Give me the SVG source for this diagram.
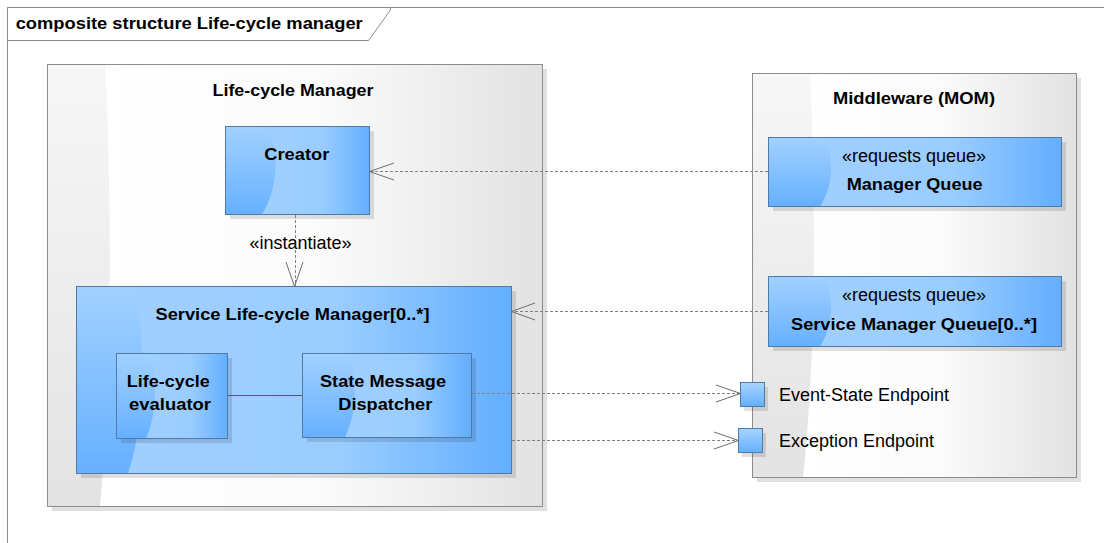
<svg xmlns="http://www.w3.org/2000/svg" width="1104" height="543" viewBox="0 0 1104 543">
<style>
.frame{fill:none;stroke:#8a8a8a;stroke-width:1}
.tab{fill:#fff;stroke:#8a8a8a;stroke-width:1}
.shadow{fill:#000;opacity:0.12}
.cbase{fill:url(#gBaseGray)}
.cover{fill:url(#gOverGray)}
.cborder{fill:none;stroke:#8c8c8c;stroke-width:1}
.bbase{fill:url(#gBaseBlue)}
.bover{fill:url(#gOverBlue)}
.bborder{fill:none;stroke:#4f7aa3;stroke-width:1}
.port{fill:url(#gPort);stroke:#4f7aa3;stroke-width:1}
.b{font-family:"Liberation Sans",Arial,sans-serif;font-weight:bold;font-size:16.5px;fill:#000}
.r{font-family:"Liberation Sans",Arial,sans-serif;font-size:18px;fill:#000}
.dash{fill:none;stroke:#808080;stroke-width:1;stroke-dasharray:3,2}
.head{fill:none;stroke:#6e6e6e;stroke-width:1}
.solid{fill:none;stroke:#5a5a5a;stroke-width:1}
</style>
<defs>
<linearGradient id="gBaseGray" x1="0" y1="0" x2="0" y2="1">
<stop offset="0" stop-color="#f7f7f7"/><stop offset="1" stop-color="#e3e3e3"/>
</linearGradient>
<linearGradient id="gOverGray" x1="0" y1="0" x2="1" y2="0">
<stop offset="0" stop-color="#ffffff"/><stop offset="0.5" stop-color="#fbfbfb"/><stop offset="1" stop-color="#e2e2e2"/>
</linearGradient>
<linearGradient id="gBaseBlue" x1="0" y1="0" x2="0" y2="1">
<stop offset="0" stop-color="#a2d1ff"/><stop offset="1" stop-color="#66b0ff"/>
</linearGradient>
<linearGradient id="gOverBlue" x1="0" y1="0" x2="1" y2="0">
<stop offset="0" stop-color="#9fcfff"/><stop offset="0.55" stop-color="#9acdff"/><stop offset="1" stop-color="#63aeff"/>
</linearGradient>
<linearGradient id="gPort" x1="0" y1="0" x2="0" y2="1">
<stop offset="0" stop-color="#a8d4ff"/><stop offset="1" stop-color="#64afff"/>
</linearGradient>
</defs>

<g id="frame">
<rect class="frame" x="7.5" y="7.5" width="1110" height="550"/>
<path class="tab" d="M7.5,7.5 H390.5 V10 L368.5,40.5 H7.5 Z"/>
<text class="b" x="15.7" y="28.5" textLength="347" lengthAdjust="spacingAndGlyphs">composite structure Life-cycle manager</text>
</g>

<g id="node-lifecycle-manager">
<rect class="shadow" x="52" y="69" width="495" height="442"/>
<rect class="cbase" x="47.5" y="64.5" width="495" height="442"/>
<path class="cover" d="M105,64.5 C112,200 112,380 100,506.5 H542.5 V64.5 Z"/>
<rect class="cborder" x="47.5" y="64.5" width="495" height="442"/>
<text class="b" x="293" y="95.5" text-anchor="middle" textLength="161" lengthAdjust="spacingAndGlyphs">Life-cycle Manager</text>
</g>

<g id="node-middleware">
<rect class="shadow" x="757" y="78" width="324" height="404"/>
<rect class="cbase" x="752.5" y="73.5" width="324" height="404"/>
<path class="cover" d="M810,73.5 C816,200 816,360 803,477.5 H1076.5 V73.5 Z"/>
<rect class="cborder" x="752.5" y="73.5" width="324" height="404"/>
<text class="b" x="914" y="104.3" text-anchor="middle" textLength="162" lengthAdjust="spacingAndGlyphs">Middleware (MOM)</text>
</g>

<g id="node-creator">
<rect class="shadow" x="230" y="131" width="144" height="88"/>
<rect class="bbase" x="225.5" y="126.5" width="144" height="88"/>
<path class="bover" d="M268,126.5 C278,150 280,185 262,214.5 H369.5 V126.5 Z"/>
<rect class="bborder" x="225.5" y="126.5" width="144" height="88"/>
<text class="b" x="296.8" y="159.5" text-anchor="middle" textLength="65" lengthAdjust="spacingAndGlyphs">Creator</text>
</g>

<g id="node-service-lifecycle-manager">
<rect class="shadow" x="81" y="291" width="435" height="187"/>
<rect class="bbase" x="76.5" y="286.5" width="435" height="187"/>
<path class="bover" d="M134,286.5 C146,340 146,420 128,473.5 H511.5 V286.5 Z"/>
<rect class="bborder" x="76.5" y="286.5" width="435" height="187"/>
<text class="b" x="292.5" y="319.5" text-anchor="middle" textLength="274" lengthAdjust="spacingAndGlyphs">Service Life-cycle Manager[0..*]</text>
</g>

<g id="node-lifecycle-evaluator">
<rect class="shadow" x="121" y="358" width="111" height="85"/>
<rect class="bbase" x="116.5" y="353.5" width="111" height="85"/>
<path class="bover" d="M150,353.5 C157,380 158,410 146,438.5 H227.5 V353.5 Z"/>
<rect class="bborder" x="116.5" y="353.5" width="111" height="85"/>
<text class="b" x="168.3" y="387" text-anchor="middle" textLength="83" lengthAdjust="spacingAndGlyphs">Life-cycle</text>
<text class="b" x="170" y="410.3" text-anchor="middle" textLength="82" lengthAdjust="spacingAndGlyphs">evaluator</text>
</g>

<g id="node-state-message-dispatcher">
<rect class="shadow" x="307" y="358" width="169" height="84"/>
<rect class="bbase" x="302.5" y="353.5" width="169" height="84"/>
<path class="bover" d="M348,353.5 C357,380 358,410 345,437.5 H471.5 V353.5 Z"/>
<rect class="bborder" x="302.5" y="353.5" width="169" height="84"/>
<text class="b" x="383" y="387" text-anchor="middle" textLength="126" lengthAdjust="spacingAndGlyphs">State Message</text>
<text class="b" x="385.3" y="410.3" text-anchor="middle" textLength="94" lengthAdjust="spacingAndGlyphs">Dispatcher</text>
</g>

<g id="node-manager-queue">
<rect class="shadow" x="773" y="142" width="293" height="69"/>
<rect class="bbase" x="768.5" y="137.5" width="293" height="69"/>
<path class="bover" d="M825,137.5 C834,155 834,185 820,206.5 H1061.5 V137.5 Z"/>
<rect class="bborder" x="768.5" y="137.5" width="293" height="69"/>
<text class="r" x="914" y="162" text-anchor="middle">«requests queue»</text>
<text class="b" x="914.7" y="190.3" text-anchor="middle" textLength="136" lengthAdjust="spacingAndGlyphs">Manager Queue</text>
</g>

<g id="node-service-manager-queue">
<rect class="shadow" x="773" y="281" width="293" height="70"/>
<rect class="bbase" x="768.5" y="276.5" width="293" height="70"/>
<path class="bover" d="M825,276.5 C834,295 834,325 820,346.5 H1061.5 V276.5 Z"/>
<rect class="bborder" x="768.5" y="276.5" width="293" height="70"/>
<text class="r" x="914" y="301" text-anchor="middle">«requests queue»</text>
<text class="b" x="914" y="329.5" text-anchor="middle" textLength="246" lengthAdjust="spacingAndGlyphs">Service Manager Queue[0..*]</text>
</g>

<g id="node-event-state-endpoint">
<rect class="shadow" x="744" y="387" width="24" height="24"/>
<rect class="port" x="740.5" y="382.5" width="24" height="24"/>
<text class="r" x="779" y="401">Event-State Endpoint</text>
</g>

<g id="node-exception-endpoint">
<rect class="shadow" x="742" y="433" width="24" height="24"/>
<rect class="port" x="738.5" y="428.5" width="24" height="24"/>
<text class="r" x="779" y="447.3">Exception Endpoint</text>
</g>

<g id="connectors">
<path class="dash" d="M768,171.5 H370"/>
<path class="head" d="M394,163 L369.5,171.5 L394,180"/>
<path class="dash" d="M295.5,215 V286"/>
<path class="head" d="M286,262 L294.5,286.5 L303,262"/>
<text class="r" x="300.5" y="249" text-anchor="middle">«instantiate»</text>
<path class="dash" d="M768,311.5 H512"/>
<path class="head" d="M535,303 L511.5,311.5 L535,320"/>
<path class="dash" d="M472,393.5 H740"/>
<path class="head" d="M716,385 L740.5,393.5 L716,402"/>
<path class="dash" d="M512,440.5 H738"/>
<path class="head" d="M714,432 L738.5,440.5 L714,449"/>
<path class="solid" d="M227.5,395.5 H302.5"/>
</g>
</svg>
